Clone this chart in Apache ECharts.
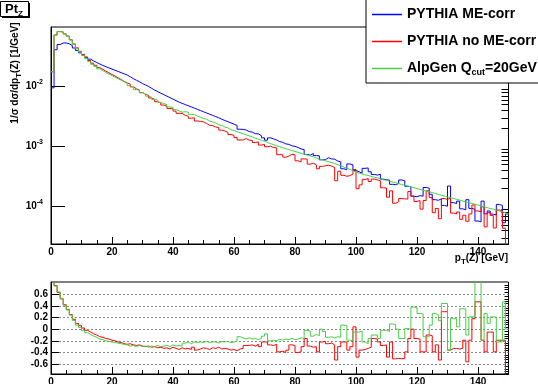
<!DOCTYPE html>
<html>
<head>
<meta charset="utf-8">
<script src="https://cdn.jsdelivr.net/npm/echarts@6/dist/echarts.min.js"></script>
<style>
  html, body { margin: 0; padding: 0; background: #fff; }
  #chart { width: 538px; height: 384px; }
</style>
</head>
<body>
<div id="chart"></div>
<script>
// pT(Z) histograms, 1 GeV bins from 0 to 150, normalised 1/sigma dsigma/dpT [1/GeV]
const binEdges = Array.from({ length: 151 }, (_, i) => i);

const pythiaMe = [
  9.5e-3, 4.1e-2, 5.0e-2, 5.3e-2, 5.3e-2, 5.13e-2, 4.79e-2, 4.37e-2, 3.98e-2, 3.63e-2,
  3.35e-2, 3.09e-2, 2.85e-2, 2.66e-2, 2.51e-2, 2.37e-2, 2.24e-2, 2.14e-2, 2.04e-2, 1.95e-2,
  1.86e-2, 1.78e-2, 1.70e-2, 1.62e-2, 1.55e-2, 1.45e-2, 1.35e-2, 1.27e-2, 1.20e-2, 1.12e-2,
  1.06e-2, 1.00e-2, 9.33e-3, 8.71e-3, 8.22e-3, 7.76e-3, 7.33e-3, 6.92e-3, 6.53e-3, 6.17e-3,
  5.82e-3, 5.50e-3, 5.25e-3, 5.01e-3, 4.79e-3, 4.57e-3, 4.37e-3, 4.17e-3, 3.98e-3, 3.80e-3,
  3.63e-3, 3.47e-3, 3.31e-3, 3.16e-3, 3.02e-3, 2.85e-3, 2.72e-3, 2.60e-3, 2.48e-3, 2.37e-3,
  2.25e-3, 1.95e-3, 1.93e-3, 1.89e-3, 1.78e-3, 1.74e-3, 1.64e-3, 1.63e-3, 1.52e-3, 1.40e-3,
  1.28e-3, 1.40e-3, 1.34e-3, 1.29e-3, 1.21e-3, 1.18e-3, 1.11e-3, 1.09e-3, 1.03e-3, 1.01e-3,
  9.68e-4, 9.14e-4, 8.93e-4, 7.40e-4, 7.21e-4, 7.69e-4, 7.10e-4, 7.01e-4, 6.03e-4, 6.07e-4,
  6.54e-4, 6.25e-4, 6.18e-4, 5.76e-4, 5.57e-4, 4.28e-4, 4.12e-4, 5.15e-4, 4.98e-4, 4.00e-4,
  3.82e-4, 3.61e-4, 4.35e-4, 4.42e-4, 3.81e-4, 3.44e-4, 3.36e-4, 3.48e-4, 2.88e-4, 2.81e-4,
  2.77e-4, 2.36e-4, 2.33e-4, 2.43e-4, 2.79e-4, 2.70e-4, 2.19e-4, 2.14e-4, 1.50e-4, 1.46e-4,
  1.53e-4, 1.50e-4, 2.09e-4, 2.04e-4, 1.61e-4, 1.31e-4, 1.28e-4, 1.35e-4, 1.05e-4, 1.02e-4,
  2.21e-4, 1.17e-4, 1.13e-4, 1.24e-4, 9.23e-5, 8.91e-5, 1.31e-4, 9.38e-5, 9.06e-5, 5.79e-5,
  5.60e-5, 1.24e-4, 7.60e-5, 8.49e-5, 7.53e-5, 7.28e-5, 1.09e-4, 1.05e-4, 5.41e-5, 7.59e-5
];

const pythiaNoMe = [
  1.76e-2, 7.2e-2, 8.2e-2, 8.1e-2, 7.5e-2, 6.9e-2, 6.0e-2, 5.1e-2, 4.4e-2, 3.85e-2,
  3.42e-2, 3.03e-2, 2.71e-2, 2.45e-2, 2.26e-2, 2.06e-2, 1.93e-2, 1.80e-2, 1.69e-2, 1.58e-2,
  1.49e-2, 1.39e-2, 1.31e-2, 1.215e-2, 1.15e-2, 1.09e-2, 9.86e-3, 9.14e-3, 8.76e-3, 7.95e-3,
  7.42e-3, 7.10e-3, 6.44e-3, 6.10e-3, 5.59e-3, 5.35e-3, 4.91e-3, 4.71e-3, 4.31e-3, 4.26e-3,
  3.90e-3, 3.58e-3, 3.57e-3, 3.31e-3, 3.21e-3, 2.97e-3, 3.02e-3, 2.67e-3, 2.63e-3, 2.58e-3,
  2.43e-3, 2.26e-3, 2.25e-3, 2.12e-3, 2.08e-3, 1.88e-3, 1.82e-3, 1.72e-3, 1.59e-3, 1.54e-3,
  1.42e-3, 1.29e-3, 1.29e-3, 1.36e-3, 1.28e-3, 1.27e-3, 1.17e-3, 1.20e-3, 1.06e-3, 1.09e-3,
  9.95e-4, 1.02e-3, 9.63e-4, 9.57e-4, 7.35e-4, 7.30e-4, 6.67e-4, 6.95e-4, 7.48e-4, 7.29e-4,
  5.81e-4, 5.57e-4, 6.25e-4, 6.21e-4, 5.12e-4, 5.30e-4, 4.97e-4, 4.28e-4, 4.70e-4, 4.80e-4,
  4.90e-4, 4.75e-4, 4.51e-4, 2.71e-4, 3.90e-4, 3.33e-4, 3.21e-4, 3.29e-4, 3.48e-4, 4.16e-4,
  1.99e-4, 2.31e-4, 2.82e-4, 2.96e-4, 2.63e-4, 2.88e-4, 2.79e-4, 2.71e-4, 2.07e-4, 2.05e-4,
  1.44e-4, 1.84e-4, 1.14e-4, 1.21e-4, 1.37e-4, 1.35e-4, 1.34e-4, 1.79e-4, 1.50e-4, 1.22e-4,
  1.27e-4, 9.12e-5, 1.27e-4, 1.84e-4, 1.43e-4, 7.96e-5, 9.35e-5, 6.32e-5, 1.37e-4, 1.32e-4,
  1.41e-4, 7.83e-5, 7.57e-5, 8.18e-5, 6.18e-5, 7.21e-5, 5.74e-5, 7.60e-5, 1.07e-4, 8.51e-5,
  8.22e-5, 1.00e-4, 4.63e-5, 8.05e-5, 7.16e-5, 4.44e-5, 8.83e-5, 8.53e-5, 4.38e-5, 7.6e-6
];

const alpgen = [
  1.76e-2, 7.13e-2, 8.2e-2, 8.12e-2, 7.47e-2, 6.82e-2, 5.94e-2, 5.03e-2, 4.26e-2, 3.74e-2,
  3.28e-2, 2.90e-2, 2.59e-2, 2.34e-2, 2.16e-2, 1.97e-2, 1.84e-2, 1.71e-2, 1.61e-2, 1.52e-2,
  1.43e-2, 1.35e-2, 1.275e-2, 1.20e-2, 1.13e-2, 1.03e-2, 9.72e-3, 8.89e-3, 8.64e-3, 7.84e-3,
  7.53e-3, 6.90e-3, 6.62e-3, 6.10e-3, 5.92e-3, 5.43e-3, 5.20e-3, 4.98e-3, 4.57e-3, 4.50e-3,
  4.13e-3, 3.96e-3, 3.73e-3, 3.81e-3, 3.74e-3, 3.43e-3, 3.41e-3, 3.21e-3, 3.10e-3, 2.93e-3,
  2.87e-3, 2.67e-3, 2.58e-3, 2.46e-3, 2.30e-3, 2.25e-3, 2.12e-3, 2.05e-3, 1.91e-3, 1.85e-3,
  1.78e-3, 1.70e-3, 1.64e-3, 1.57e-3, 1.51e-3, 1.45e-3, 1.38e-3, 1.33e-3, 1.27e-3, 1.23e-3,
  1.175e-3, 1.12e-3, 1.08e-3, 1.035e-3, 1.00e-3, 9.55e-4, 9.23e-4, 8.91e-4, 8.61e-4, 8.32e-4,
  8.04e-4, 7.76e-4, 7.50e-4, 7.24e-4, 7.00e-4, 6.76e-4, 6.46e-4, 6.24e-4, 6.03e-4, 5.82e-4,
  5.62e-4, 5.43e-4, 5.25e-4, 5.01e-4, 4.79e-4, 4.57e-4, 4.37e-4, 4.17e-4, 3.98e-4, 3.80e-4,
  3.63e-4, 3.51e-4, 3.39e-4, 3.31e-4, 3.20e-4, 3.09e-4, 3.02e-4, 2.92e-4, 2.82e-4, 2.75e-4,
  2.66e-4, 2.57e-4, 2.51e-4, 2.43e-4, 2.34e-4, 2.26e-4, 2.21e-4, 2.14e-4, 2.07e-4, 2.00e-4,
  1.95e-4, 1.88e-4, 1.82e-4, 1.78e-4, 1.72e-4, 1.66e-4, 1.60e-4, 1.55e-4, 1.51e-4, 1.46e-4,
  1.41e-4, 1.38e-4, 1.33e-4, 1.29e-4, 1.24e-4, 1.20e-4, 1.175e-4, 1.135e-4, 1.096e-4, 1.07e-4,
  1.035e-4, 1.0e-4, 9.66e-5, 9.33e-5, 9.12e-5, 8.81e-5, 8.51e-5, 8.22e-5, 7.94e-5, 7.59e-5
];

// relative difference to PYTHIA ME-corr (lower pad)
const diffNoMe = [
  0.85, 0.75, 0.63, 0.52, 0.42, 0.34, 0.25, 0.17, 0.10, 0.06,
  0.02, -0.02, -0.05, -0.08, -0.10, -0.13, -0.14, -0.16, -0.17, -0.19,
  -0.20, -0.22, -0.23, -0.25, -0.26, -0.25, -0.27, -0.28, -0.27, -0.29,
  -0.30, -0.29, -0.31, -0.30, -0.32, -0.31, -0.33, -0.32, -0.34, -0.31,
  -0.33, -0.35, -0.32, -0.34, -0.33, -0.35, -0.31, -0.36, -0.34, -0.32,
  -0.33, -0.35, -0.32, -0.33, -0.31, -0.34, -0.33, -0.34, -0.36, -0.35,
  -0.37, -0.34, -0.33, -0.28, -0.28, -0.27, -0.29, -0.26, -0.30, -0.22,
  -0.22, -0.27, -0.28, -0.26, -0.39, -0.38, -0.40, -0.36, -0.27, -0.28,
  -0.40, -0.39, -0.30, -0.16, -0.29, -0.31, -0.30, -0.39, -0.22, -0.21,
  -0.25, -0.24, -0.27, -0.53, -0.30, -0.22, -0.22, -0.36, -0.30, 0.04,
  -0.48, -0.36, -0.35, -0.33, -0.31, -0.16, -0.17, -0.22, -0.28, -0.27,
  -0.48, -0.22, -0.51, -0.50, -0.51, -0.50, -0.39, -0.16, 0.00, -0.16,
  -0.17, -0.39, -0.39, -0.10, -0.11, -0.39, -0.27, -0.53, 0.30, 0.30,
  -0.36, -0.33, -0.33, -0.34, -0.33, -0.19, -0.56, -0.19, 0.18, 0.47,
  0.47, -0.19, -0.39, -0.05, -0.05, -0.39, -0.19, -0.19, -0.19, -0.90
];

const diffAlpgen = [
  0.85, 0.74, 0.64, 0.53, 0.41, 0.33, 0.24, 0.15, 0.07, 0.03,
  -0.02, -0.06, -0.09, -0.12, -0.14, -0.17, -0.18, -0.20, -0.21, -0.22,
  -0.23, -0.24, -0.25, -0.26, -0.27, -0.29, -0.28, -0.30, -0.28, -0.30,
  -0.29, -0.31, -0.29, -0.30, -0.28, -0.30, -0.29, -0.28, -0.30, -0.27,
  -0.29, -0.28, -0.29, -0.24, -0.22, -0.25, -0.22, -0.23, -0.22, -0.23,
  -0.21, -0.23, -0.22, -0.22, -0.24, -0.21, -0.22, -0.21, -0.23, -0.22,
  -0.21, -0.13, -0.15, -0.17, -0.15, -0.17, -0.16, -0.18, -0.16, -0.12,
  -0.08, -0.20, -0.19, -0.20, -0.17, -0.19, -0.17, -0.18, -0.16, -0.18,
  -0.17, -0.15, -0.16, -0.02, -0.03, -0.12, -0.09, -0.11, 0.00, -0.04,
  -0.14, -0.13, -0.15, -0.13, -0.14, 0.07, 0.06, -0.19, -0.20, -0.05,
  -0.05, -0.03, -0.22, -0.25, -0.16, -0.10, -0.10, -0.16, -0.02, -0.02,
  -0.04, 0.09, 0.08, 0.00, -0.16, -0.16, 0.01, 0.00, 0.38, 0.37,
  0.27, 0.26, -0.13, -0.13, 0.07, 0.27, 0.25, 0.15, 0.44, 0.44,
  -0.36, 0.18, 0.18, 0.04, 0.35, 0.35, -0.10, 0.21, 0.21, 0.85,
  0.85, -0.19, 0.27, 0.10, 0.21, 0.21, -0.22, -0.22, 0.47, 0.00
];

const seriesNames = ['PYTHIA ME-corr', 'PYTHIA no ME-corr', 'AlpGen Q_cut=20GeV'];
const seriesColors = ['#0000ff', '#ff0000', '#44d044'];
const decadeTicks = [-4, -3, -2];          // log10 of 1e-4, 1e-3, 1e-2
const diffTicks = [-0.6, -0.4, -0.2, 0, 0.2, 0.4, 0.6];

const FONT = '"Liberation Sans", Arial, Helvetica, sans-serif';
const logMin = -4.62, logMax = -1.01;

// minor log ticks 2..9 x 10^n
const logMinor = [];
for (let n = -5; n <= -2; n++) {
  for (let k = 2; k <= 9; k++) {
    const v = Math.log10(k) + n;
    if (v > logMin && v < logMax) logMinor.push(v);
  }
}
const diffMinor = [];
for (let k = -19; k <= 20; k++) {
  if (k % 5 !== 0) diffMinor.push(k * 0.04);
}

// histogram as step line: one point per bin low edge + closing right edge
function histPoints(vals, f) {
  const pts = vals.map((v, i) => [binEdges[i], f(v)]);
  pts.push([binEdges[vals.length], f(vals[vals.length - 1])]);
  return pts;
}
const ident = v => v;

const chart = echarts.init(document.getElementById('chart'));

const subRich = {
  sub: { fontSize: 8, fontWeight: 'bold', fontFamily: FONT, color: '#000', verticalAlign: 'bottom' },
  sup: { fontSize: 7, fontWeight: 'bold', fontFamily: FONT, color: '#000', verticalAlign: 'top' }
};

function xAxisCfg(gridIndex) {
  return {
    type: 'value', gridIndex, min: 0, max: 150, interval: 20,
    axisLine: { show: true, onZero: false, lineStyle: { color: '#000', width: 1 } },
    axisTick: { show: true, inside: true, length: 7, lineStyle: { color: '#000' } },
    minorTick: { show: true, splitNumber: 4, length: 4, lineStyle: { color: '#000' } },
    axisLabel: {
      show: true, margin: 3, showMaxLabel: false, color: '#000',
      fontFamily: FONT, fontSize: 10, fontWeight: 'bold'
    },
    splitLine: { show: false }
  };
}

function histSeries(name, vals, color, xi, yi, f) {
  return {
    name, type: 'line', xAxisIndex: xi, yAxisIndex: yi, step: 'end', symbol: 'none',
    data: histPoints(vals, f), lineStyle: { color, width: 1 }, itemStyle: { color }
  };
}

const option = {
  animation: false,
  backgroundColor: '#fff',
  textStyle: { fontFamily: FONT },
  grid: [
    { left: 51, top: 27, width: 457.5, height: 217, show: true, borderColor: '#000', borderWidth: 1, outerBoundsMode: 'none', containLabel: false },
    { left: 51, top: 282, width: 457.5, height: 92, show: true, borderColor: '#000', borderWidth: 1, outerBoundsMode: 'none', containLabel: false }
  ],
  xAxis: [xAxisCfg(0), xAxisCfg(1)],
  yAxis: [
    {
      type: 'value', gridIndex: 0, min: logMin, max: logMax,
      axisLine: { show: true, lineStyle: { color: '#000' } },
      axisTick: { show: true, inside: true, length: 14, customValues: decadeTicks, lineStyle: { color: '#000' } },
      axisLabel: {
        show: true, customValues: decadeTicks, margin: 8, color: '#000',
        fontFamily: FONT, fontSize: 10, fontWeight: 'bold', lineHeight: 16,
        formatter: v => '10{sup|' + Math.round(v) + '}',
        rich: subRich
      },
      splitLine: { show: false }
    },
    {
      type: 'value', gridIndex: 0, min: logMin, max: logMax,
      axisLine: { show: false },
      axisTick: { show: true, inside: true, length: 7, customValues: logMinor, lineStyle: { color: '#000' } },
      axisLabel: { show: false },
      splitLine: { show: false }
    },
    {
      type: 'value', gridIndex: 1, min: -0.77, max: 0.81,
      axisLine: { show: true, lineStyle: { color: '#000' } },
      axisTick: { show: true, inside: true, length: 8, customValues: diffTicks, lineStyle: { color: '#000' } },
      axisLabel: {
        show: true, customValues: diffTicks, margin: 3, color: '#000',
        fontFamily: FONT, fontSize: 10, fontWeight: 'bold',
        formatter: v => String(Math.round(v * 10) / 10)
      },
      splitLine: { show: true, lineStyle: { color: '#888', width: 1, type: [2, 2] } }
    },
    {
      type: 'value', gridIndex: 1, min: -0.77, max: 0.81,
      axisLine: { show: false },
      axisTick: { show: true, inside: true, length: 4, customValues: diffMinor, lineStyle: { color: '#000' } },
      axisLabel: { show: false },
      splitLine: { show: false }
    }
  ],
  legend: {
    orient: 'vertical', left: 366, top: -8,
    padding: [14, 80, 6, 6],
    icon: 'rect', itemWidth: 30, itemHeight: 1.5, itemGap: 10,
    backgroundColor: '#fff', borderColor: '#000', borderWidth: 1, borderRadius: 0,
    selectedMode: false,
    data: seriesNames.map((name, i) => ({
      name, icon: 'rect',
      itemStyle: { color: seriesColors[i], borderWidth: 0, opacity: 1 }
    })),
    formatter: name => name.replace('Q_cut', 'Q{sub|cut}'),
    textStyle: {
      fontFamily: FONT, fontSize: 14, fontWeight: 'bold', color: '#000', lineHeight: 17,
      rich: { sub: { fontSize: 9, fontWeight: 'bold', fontFamily: FONT, color: '#000', verticalAlign: 'bottom' } }
    }
  },
  graphic: [
    { type: 'rect', shape: { x: 2, y: 3, width: 28, height: 15 }, style: { fill: '#000' }, z: 10 },
    { type: 'rect', shape: { x: 0.5, y: 1.5, width: 28, height: 15 }, style: { fill: '#fff', stroke: '#000', lineWidth: 1 }, z: 11 },
    {
      type: 'text', x: 5, y: 9, z: 12,
      style: {
        text: 'Pt{sub|Z}', fill: '#000', fontFamily: FONT, fontSize: 13, fontWeight: 'bold',
        verticalAlign: 'middle', lineHeight: 18, rich: subRich
      }
    },
    {
      type: 'text', x: 15, y: 73, rotation: Math.PI / 2, z: 12,
      style: {
        text: '1/\u03c3 d\u03c3/dp{sub|T}(Z) [1/GeV]', fill: '#000', fontFamily: FONT, fontSize: 10,
        fontWeight: 'bold', align: 'center', verticalAlign: 'middle', lineHeight: 16, rich: subRich
      }
    },
    {
      type: 'text', x: 508, y: 258, z: 12,
      style: {
        text: 'p{sub|T}(Z) [GeV]', fill: '#000', fontFamily: FONT, fontSize: 10,
        fontWeight: 'bold', align: 'right', verticalAlign: 'middle', lineHeight: 16, rich: subRich
      }
    }
  ],
  series: [
    histSeries(seriesNames[0], pythiaMe, seriesColors[0], 0, 0, Math.log10),
    histSeries(seriesNames[1], pythiaNoMe, seriesColors[1], 0, 0, Math.log10),
    histSeries(seriesNames[2], alpgen, seriesColors[2], 0, 0, Math.log10),
    histSeries('diff no ME-corr', diffNoMe, seriesColors[1], 1, 2, ident),
    histSeries('diff AlpGen', diffAlpgen, seriesColors[2], 1, 2, ident)
  ]
};

chart.setOption(option);
</script>
</body>
</html>
